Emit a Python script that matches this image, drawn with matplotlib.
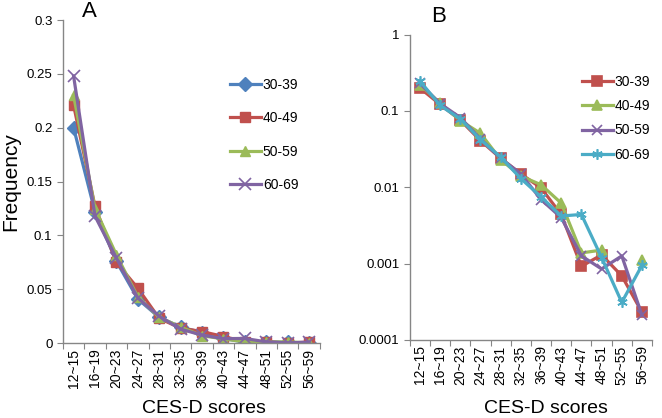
import matplotlib
matplotlib.use('Agg')
import matplotlib.pyplot as plt
import numpy as np
from matplotlib.ticker import FixedLocator, FuncFormatter, NullFormatter

plt.rcParams['font.family'] = ['Liberation Sans', 'DejaVu Sans']

# ----------------------- DATA -----------------------
categories = ['12~15', '16~19', '20~23', '24~27', '28~31', '32~35',
              '36~39', '40~43', '44~47', '48~51', '52~55', '56~59']

age_30_39 = [0.200, 0.122, 0.076, 0.041, 0.024, 0.015, 0.0098, 0.0044, 0.00092, 0.0013, 0.00069, 0.00023]
age_40_49 = [0.221, 0.127, 0.075, 0.051, 0.023, 0.014, 0.0108, 0.0062, 0.00138, 0.0015, 0.0, 0.0011]
age_50_59 = [0.230, 0.125, 0.082, 0.043, 0.024, 0.015, 0.0069, 0.0040, 0.00126, 0.00085, 0.00126, 0.00021]
age_60_69 = [0.248, 0.118, 0.079, 0.042, 0.025, 0.013, 0.0075, 0.0042, 0.0044, 0.0012, 0.00031, 0.00095]

series = [age_30_39, age_40_49, age_50_59, age_60_69]
labels = ['30-39', '40-49', '50-59', '60-69']

# panel A styles
styles_a = [('#4F81BD', 'D'), ('#C0504D', 's'), ('#9BBB59', '^'), ('#8064A2', 'x')]
# panel B styles (shifted colours as in the original figure)
styles_b = [('#C0504D', 's'), ('#9BBB59', '^'), ('#8064A2', 'x'), ('#4BACC6', (6, 2, 0))]

axis_grey = '#868686'
x = np.arange(len(categories))

fig = plt.figure(figsize=(6.62, 4.18), dpi=100)
ax1 = fig.add_axes([0.095, 0.179, 0.388, 0.773])
ax2 = fig.add_axes([0.619, 0.187, 0.366, 0.730])


def style_axis(ax):
    for s in ['top', 'right']:
        ax.spines[s].set_visible(False)
    for s in ['left', 'bottom']:
        ax.spines[s].set_color(axis_grey)
        ax.spines[s].set_linewidth(1.0)
    ax.set_xlim(-0.5, len(categories) - 0.5)
    ax.xaxis.set_major_locator(FixedLocator(np.arange(-0.5, len(categories), 1.0)))
    ax.xaxis.set_major_formatter(NullFormatter())
    ax.xaxis.set_minor_locator(FixedLocator(x))
    ax.set_xticklabels(categories, minor=True, rotation=90, fontsize=10)
    ax.tick_params(axis='x', which='major', length=4, color=axis_grey, direction='out')
    ax.tick_params(axis='x', which='minor', length=0, pad=4)
    ax.tick_params(axis='y', which='major', length=4, color=axis_grey, direction='out', labelsize=9.5)
    ax.set_xlabel('CES-D scores', fontsize=14)


# ----------------------- PANEL A -----------------------
for vals, (c, m), lab in zip(series, styles_a, labels):
    ms = 8 if m == 'x' else 7
    ax1.plot(x, vals, color=c, marker=m, markersize=ms, linewidth=2.3,
             markeredgecolor=c, markeredgewidth=1.2 if m == 'x' else 1.0, label=lab)
ax1.set_ylim(0, 0.3)
ax1.yaxis.set_major_locator(FixedLocator([0, 0.05, 0.1, 0.15, 0.2, 0.25, 0.3]))
ax1.yaxis.set_major_formatter(FuncFormatter(lambda v, p: '%g' % round(v, 4)))
style_axis(ax1)
ax1.xaxis.set_label_coords(0.55, -0.176)
ax1.set_ylabel('Frequency', fontsize=15)
ax1.yaxis.set_label_coords(-0.165, 0.5)
ax1.legend(loc='upper left', bbox_to_anchor=(0.60, 0.86), frameon=False, fontsize=10,
           handlelength=2.3, labelspacing=1.4, handletextpad=0.1)
ax1.text(0.105, 1.025, 'A', transform=ax1.transAxes, fontsize=16, ha='center', va='center')

# ----------------------- PANEL B -----------------------
for vals, (c, m), lab in zip(series, styles_b, labels):
    v = np.array(vals, dtype=float)
    v[v <= 0] = np.nan
    ax2.plot(x, v, color=c, marker=m, markersize=7.5, linewidth=2.3,
             markeredgecolor=c, markeredgewidth=1.2, label=lab)
ax2.set_yscale('log')
ax2.set_ylim(0.0001, 1)
ax2.yaxis.set_major_locator(FixedLocator([0.0001, 0.001, 0.01, 0.1, 1]))
ax2.yaxis.set_major_formatter(FuncFormatter(lambda v, p: '%g' % v))
ax2.yaxis.set_minor_locator(FixedLocator([]))
style_axis(ax2)
ax2.xaxis.set_label_coords(0.56, -0.197)
ax2.legend(loc='upper left', bbox_to_anchor=(0.66, 0.91), frameon=False, fontsize=10,
           handlelength=2.2, labelspacing=0.75, handletextpad=0.1)
ax2.text(0.12, 1.06, 'B', transform=ax2.transAxes, fontsize=16, ha='center', va='center')

fig.savefig('out.png', dpi=100)
